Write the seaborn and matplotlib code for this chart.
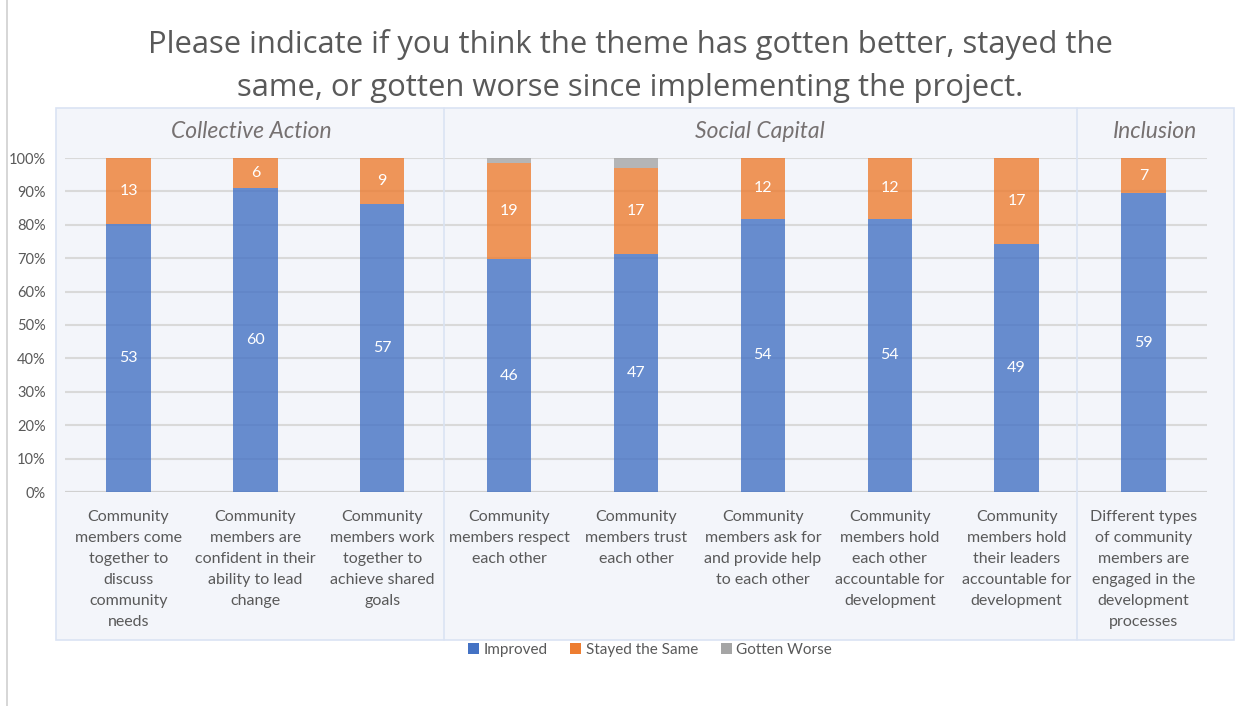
import matplotlib
matplotlib.use("Agg")
import matplotlib.pyplot as plt
import seaborn as sns
import numpy as np
import pandas as pd
from matplotlib.patches import Rectangle, Patch
from matplotlib.lines import Line2D

categories = [
    "Community\nmembers come\ntogether to\ndiscuss\ncommunity\nneeds",
    "Community\nmembers are\nconfident in their\nability to lead\nchange",
    "Community\nmembers work\ntogether to\nachieve shared\ngoals",
    "Community\nmembers respect\neach other",
    "Community\nmembers trust\neach other",
    "Community\nmembers ask for\nand provide help\nto each other",
    "Community\nmembers hold\neach other\naccountable for\ndevelopment",
    "Community\nmembers hold\ntheir leaders\naccountable for\ndevelopment",
    "Different types\nof community\nmembers are\nengaged in the\ndevelopment\nprocesses",
]
improved = [53, 60, 57, 46, 47, 54, 54, 49, 59]
stayed = [13, 6, 9, 19, 17, 12, 12, 17, 7]
worse = [0, 0, 0, 1, 2, 0, 0, 0, 0]
series_names = ["Improved", "Stayed the Same", "Gotten Worse"]
groups = ["Collective Action", "Social Capital", "Inclusion"]
y_ticks = [0, 10, 20, 30, 40, 50, 60, 70, 80, 90, 100]
title = "Please indicate if you think the theme has gotten better, stayed the\nsame, or gotten worse since implementing the project."

colors = ["#4472C4", "#ED7D31", "#A5A5A5"]
txt_gray = "#595959"

sns.set_theme(style="white")
plt.rcParams['font.family'] = ['Lato', 'DejaVu Sans']

df = pd.DataFrame({"cat": categories, "Improved": improved,
                   "Stayed the Same": stayed, "Gotten Worse": worse})
tot = df[series_names].sum(axis=1)
pct = df[series_names].div(tot, axis=0) * 100

W, H = 1250, 706
fig = plt.figure(figsize=(W / 100, H / 100), dpi=100)
fig.patch.set_facecolor("white")

# panel background
panel = Rectangle((56 / W, 1 - 640 / H), (1234 - 56) / W, (640 - 108) / H,
                  transform=fig.transFigure, facecolor="#F3F5FA",
                  edgecolor="#DAE3F3", lw=1.2, zorder=0)
fig.add_artist(panel)
for xd in [444, 1077]:
    fig.add_artist(Line2D([xd / W, xd / W], [1 - 640 / H, 1 - 108 / H],
                          transform=fig.transFigure, color="#DAE3F3", lw=1.2, zorder=1))
fig.add_artist(Line2D([7 / W, 7 / W], [0, 1], transform=fig.transFigure,
                      color="#D0D0D0", lw=1.2))

ax = fig.add_axes([65 / W, 1 - 492 / H, (1207 - 65) / W, (492 - 158) / H])
ax.set_facecolor("none")

bottom = np.zeros(len(categories))
for name, col in zip(series_names, colors):
    sns.barplot(x=df["cat"], y=pct[name], bottom=bottom, color=col, alpha=0.8,
                width=0.35, ax=ax, zorder=3, linewidth=0, saturation=1)
    bottom = bottom + pct[name].values

# data labels
cum = np.zeros(len(categories))
for name in series_names[:2]:
    for i, (v, p) in enumerate(zip(df[name], pct[name])):
        if v > 0:
            ax.text(i, cum[i] + p / 2, str(v), ha="center", va="center",
                    color="white", fontsize=11.5, zorder=5)
    cum = cum + pct[name].values

ax.set_ylim(0, 100)
ax.set_xlim(-0.5, len(categories) - 0.5)
ax.set_yticks(y_ticks)
ax.set_yticklabels([f"{t}%" for t in y_ticks], fontsize=10.5, color=txt_gray)
ax.yaxis.grid(True, color="#D9D9D9", lw=1.5, zorder=0)
ax.set_axisbelow(True)
for s in ax.spines.values():
    s.set_visible(False)
ax.axhline(0, color="#D0D0D0", lw=1.5, zorder=2)
ax.set_xlabel("")
ax.set_ylabel("")
ax.tick_params(axis="y", length=0, pad=14)
ax.tick_params(axis="x", length=0, pad=13)
ax.set_xticks(range(len(categories)))
ax.set_xticklabels(categories, fontsize=11.5, color=txt_gray, linespacing=1.64,
                   va="top", ha="center")

# group headers
for g, xc in zip(groups, [251, 760, 1155]):
    fig.text(xc / W, 1 - 132 / H, g, ha="center", va="center", style="italic",
             fontsize=16.5, color="#767171")

fig.text(630 / W, 1 - 66 / H, title, ha="center", va="center", fontsize=22.3,
         color=txt_gray, linespacing=1.55, family=["Open Sans", "DejaVu Sans"])

handles = [Patch(facecolor=c, edgecolor="none") for c in colors]
fig.legend(handles, series_names, loc="center", bbox_to_anchor=(650 / W, 1 - 650 / H),
           ncol=3, frameon=False, fontsize=11, handlelength=0.7, handleheight=0.7,
           handletextpad=0.3, columnspacing=1.5, labelcolor=txt_gray)

fig.savefig("out.png", dpi=100)
